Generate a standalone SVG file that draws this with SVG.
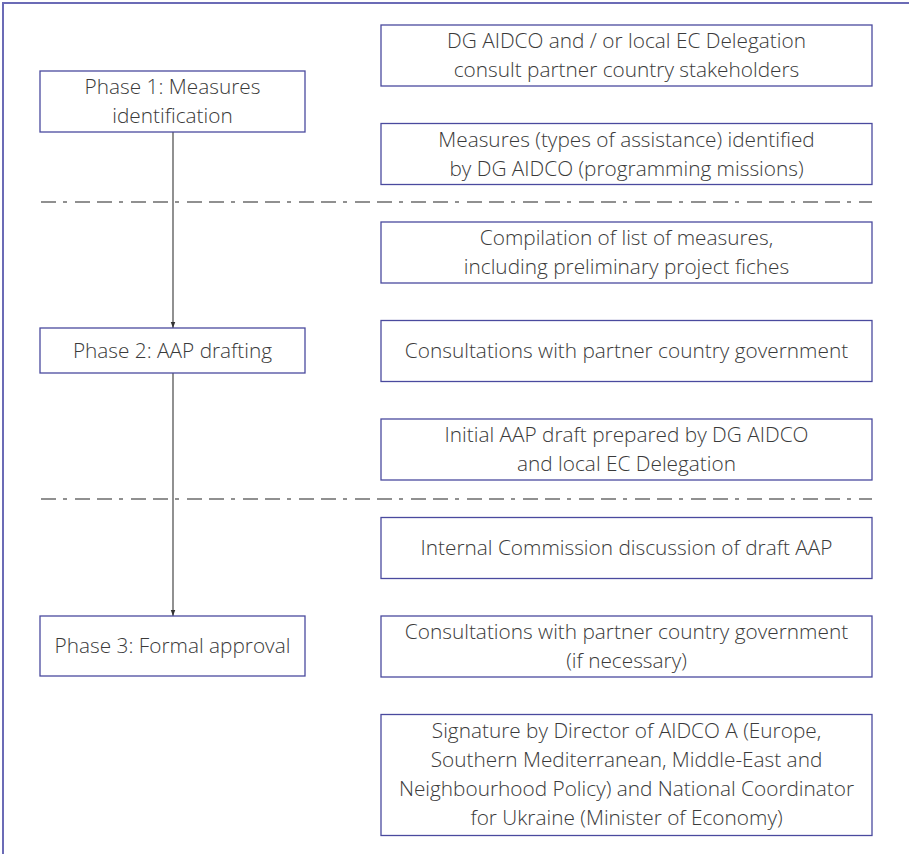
<svg xmlns="http://www.w3.org/2000/svg" width="909" height="854" viewBox="0 0 909 854">
<style>
.frame{fill:none;stroke:#6b6bb6;stroke-width:2}
.box{fill:#fff;stroke:#4a4a9e;stroke-width:1.3}
.t{font-family:"Open Sans","Liberation Sans",sans-serif;font-weight:300;font-size:20.8px;fill:#3a3a3a;text-anchor:middle}
.dash{stroke:#222;stroke-width:1.2;stroke-dasharray:15 7 4 8 15 7;fill:none}
.conn{stroke:#555;stroke-width:1.3;fill:none}
</style>
<defs>
<marker id="arr" markerWidth="6" markerHeight="8" refX="8" refY="3" orient="auto" markerUnits="userSpaceOnUse" viewBox="0 0 8 6">
<path d="M0,0 L8,3 L0,6 Z" fill="#333"/>
</marker>
</defs>
<path class="frame" d="M3,854 L3,3 L909,3"/>
<g id="separators">
<line class="dash" x1="41" y1="202" x2="872" y2="202"/>
<line class="dash" x1="41" y1="499" x2="872" y2="499"/>
</g>
<g id="connectors">
<line class="conn" x1="173" y1="132" x2="173" y2="328" marker-end="url(#arr)"/>
<line class="conn" x1="173" y1="373" x2="173" y2="616" marker-end="url(#arr)"/>
</g>
<g id="phase1">
<rect class="box" x="40" y="71" width="265" height="61"/>
<text class="t" x="172.5" y="94">Phase 1: Measures</text>
<text class="t" x="172.5" y="123">identification</text>
</g>
<g id="phase2">
<rect class="box" x="40" y="328" width="265" height="45"/>
<text class="t" x="172.5" y="357.5">Phase 2: AAP drafting</text>
</g>
<g id="phase3">
<rect class="box" x="40" y="616" width="265" height="60"/>
<text class="t" x="172.5" y="653">Phase 3: Formal approval</text>
</g>
<g id="step1">
<rect class="box" x="381" y="25" width="491" height="61"/>
<text class="t" x="626.5" y="48">DG AIDCO and / or local EC Delegation</text>
<text class="t" x="626.5" y="77">consult partner country stakeholders</text>
</g>
<g id="step2">
<rect class="box" x="381" y="123.5" width="491" height="61"/>
<text class="t" x="626.5" y="146.5">Measures (types of assistance) identified</text>
<text class="t" x="626.5" y="175.5">by DG AIDCO (programming missions)</text>
</g>
<g id="step3">
<rect class="box" x="381" y="222" width="491" height="61"/>
<text class="t" x="626.5" y="245">Compilation of list of measures,</text>
<text class="t" x="626.5" y="274">including preliminary project fiches</text>
</g>
<g id="step4">
<rect class="box" x="381" y="320.5" width="491" height="61"/>
<text class="t" x="626.5" y="358">Consultations with partner country government</text>
</g>
<g id="step5">
<rect class="box" x="381" y="419" width="491" height="61"/>
<text class="t" x="626.5" y="442">Initial AAP draft prepared by DG AIDCO</text>
<text class="t" x="626.5" y="471">and local EC Delegation</text>
</g>
<g id="step6">
<rect class="box" x="381" y="517.5" width="491" height="61"/>
<text class="t" x="626.5" y="555">Internal Commission discussion of draft AAP</text>
</g>
<g id="step7">
<rect class="box" x="381" y="616" width="491" height="61"/>
<text class="t" x="626.5" y="639">Consultations with partner country government</text>
<text class="t" x="626.5" y="668">(if necessary)</text>
</g>
<g id="step8">
<rect class="box" x="381" y="714.5" width="491" height="121"/>
<text class="t" x="626.5" y="737.5">Signature by Director of AIDCO A (Europe,</text>
<text class="t" x="626.5" y="766.5">Southern Mediterranean, Middle-East and</text>
<text class="t" x="626.5" y="795.5">Neighbourhood Policy) and National Coordinator</text>
<text class="t" x="626.5" y="825">for Ukraine (Minister of Economy)</text>
</g>
</svg>
